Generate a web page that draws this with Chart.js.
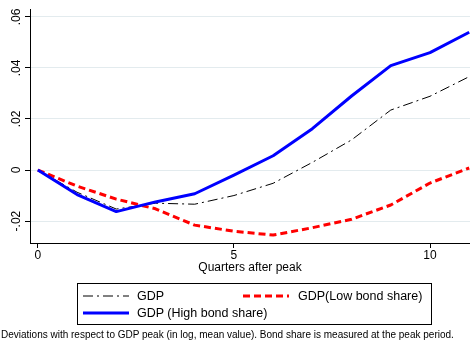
<!DOCTYPE html>
<html>
<head>
<meta charset="utf-8">
<script src="https://cdn.jsdelivr.net/npm/chart.js@4"></script>
<style>
  html, body { margin: 0; padding: 0; background: #fff; }
  #wrap { position: relative; width: 470px; height: 341px; font-family: "Liberation Sans", Arial, sans-serif; color: #000; }
  #c { position: absolute; left: 0; top: 0; }
  #legend { position: absolute; left: 77px; top: 283px; width: 353px; height: 40px; border: 1px solid #000; box-sizing: content-box; font-size: 12.5px; }
  .item { position: absolute; white-space: nowrap; line-height: 14px; }
  .item svg { position: absolute; left: 0; top: 0; }
  .item span { position: absolute; top: 0; }
  #note { position: absolute; left: 1px; top: 329px; font-size: 10px; white-space: nowrap; line-height: 12px; }
</style>
</head>
<body>
<div id="wrap">
  <canvas id="c" width="470" height="341"></canvas>
  <div id="legend"></div>
  <div id="note">Deviations with respect to GDP peak (in log, mean value). Bond share is measured at the peak period.</div>
</div>
<script>
// ---- data ----
const quarters = [0, 1, 2, 3, 4, 5, 6, 7, 8, 9, 10, 11];
const gdp      = [0, -0.0087, -0.0153, -0.0130, -0.0134, -0.0100, -0.0052, 0.0030, 0.0118, 0.0235, 0.0289, 0.0366];
const gdpLow   = [0, -0.0063, -0.0114, -0.0152, -0.0216, -0.0240, -0.0255, -0.0226, -0.0193, -0.0137, -0.0051, 0.0008];
const gdpHigh  = [0, -0.0096, -0.0163, -0.0125, -0.0093, -0.0020, 0.0056, 0.0162, 0.0290, 0.0409, 0.0460, 0.0540];
const seriesNames = ["GDP", "GDP(Low bond share)", "GDP (High bond share)"];
const xTickValues = [0, 5, 10];
const xTickLabels = ["0", "5", "10"];
const yTickValues = [-0.02, 0, 0.02, 0.04, 0.06];
const yTickLabels = ["-.02", "0", ".02", ".04", ".06"];
const xAxisTitle = "Quarters after peak";

const FONT = '"Liberation Sans", Arial, sans-serif';
const toPts = arr => quarters.map((q, i) => ({ x: q, y: arr[i] }));

const styles = [
  { color: '#000000', width: 1, dash: [10, 4, 2, 4] },
  { color: '#ff0000', width: 3, dash: [7, 4] },
  { color: '#0000ff', width: 3, dash: [] }
];
const seriesData = [gdp, gdpLow, gdpHigh];

// draw order: GDP, Low, High (blue on top)
const datasets = seriesData.map((d, i) => ({
  label: seriesNames[i],
  data: toPts(d),
  borderColor: styles[i].color,
  borderWidth: styles[i].width,
  borderDash: styles[i].dash,
  pointRadius: 0,
  tension: 0,
  fill: false,
  borderCapStyle: 'butt',
  borderJoinStyle: 'round',
  order: 3 - i
}));

const yLabelPlugin = {
  id: 'yLabels',
  afterDraw(chart) {
    const ctx = chart.ctx;
    const ys = chart.scales.y;
    ctx.save();
    ctx.fillStyle = '#000';
    ctx.font = '12px ' + FONT;
    ctx.textAlign = 'center';
    ctx.textBaseline = 'middle';
    yTickValues.forEach((v, i) => {
      const py = ys.getPixelForValue(v);
      ctx.save();
      ctx.translate(17, py);
      ctx.rotate(-Math.PI / 2);
      ctx.fillText(yTickLabels[i], 0, 0);
      ctx.restore();
    });
    ctx.restore();
  }
};

new Chart(document.getElementById('c'), {
  type: 'line',
  data: { datasets },
  options: {
    responsive: false,
    devicePixelRatio: 1,
    animation: false,
    layout: { padding: { left: 0, right: 0, top: 9, bottom: 62 } },
    plugins: { legend: { display: false }, tooltip: { enabled: false } },
    scales: {
      x: {
        type: 'linear',
        min: -0.2,
        max: 11.02,
        afterBuildTicks: s => { s.ticks = xTickValues.map(v => ({ value: v })); },
        afterFit: s => { s.height = 36; },
        ticks: {
          callback: (v) => xTickLabels[xTickValues.indexOf(v)] ?? '',
          color: '#000',
          font: { family: FONT, size: 12 },
          padding: 0,
          maxRotation: 0,
          autoSkip: false
        },
        grid: { drawOnChartArea: false, drawTicks: true, tickLength: 5, tickColor: '#000', color: '#000' },
        border: { display: true, color: '#000', width: 1 },
        title: { display: true, text: xAxisTitle, color: '#000', font: { family: FONT, size: 12 }, padding: { top: 0, bottom: 4 } }
      },
      y: {
        type: 'linear',
        min: -0.0286,
        max: 0.0631,
        afterBuildTicks: s => { s.ticks = yTickValues.map(v => ({ value: v })); },
        afterFit: s => { s.width = 30; },
        ticks: { display: false },
        grid: { color: '#e3ebee', lineWidth: 1, drawTicks: true, tickLength: 5, tickColor: '#000' },
        border: { display: true, color: '#000', width: 1 }
      }
    }
  },
  plugins: [yLabelPlugin]
});

// ---- HTML legend ----
const legend = document.getElementById('legend');
const legendPos = [
  { left: 5, top: 5, textLeft: 59 },
  { left: 165, top: 5, textLeft: 220 },
  { left: 5, top: 22, textLeft: 59 }
];
seriesNames.forEach((name, i) => {
  const p = legendPos[i];
  const st = styles[i];
  const item = document.createElement('div');
  item.className = 'item';
  item.style.left = p.left + 'px';
  item.style.top = p.top + 'px';
  item.style.width = '200px';
  item.style.height = '14px';
  const dash = st.dash.length ? `stroke-dasharray="${st.dash.join(' ')}"` : '';
  item.innerHTML = `<svg width="50" height="14"><line x1="0" y1="7" x2="46" y2="7" stroke="${st.color}" stroke-width="${st.width}" ${dash}/></svg><span style="left:${p.textLeft - p.left}px">${name}</span>`;
  legend.appendChild(item);
});
</script>
</body>
</html>
